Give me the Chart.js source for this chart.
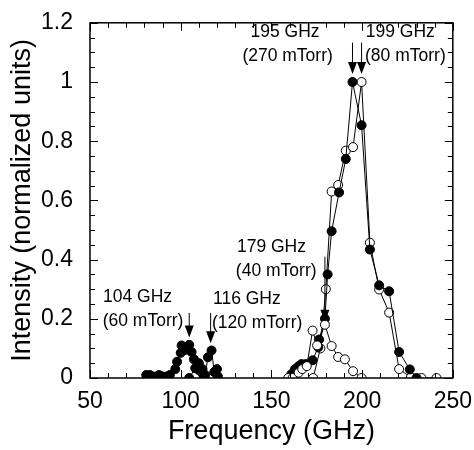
<!DOCTYPE html>
<html>
<head>
<meta charset="utf-8">
<script src="https://cdn.jsdelivr.net/npm/chart.js@4.4.0/dist/chart.umd.min.js"></script>
<style>
  html, body { margin: 0; padding: 0; background: #fff; }
</style>
</head>
<body>
<canvas id="myChart" width="474" height="450"></canvas>
<script>
// 60 mTorr (filled), peak near 104 GHz
var freq60 = [81, 83, 85, 87, 88, 90, 92, 94, 97, 98, 100, 100.5, 102.5, 104.7, 106, 107.3, 110, 112];
var int60  = [0.01, 0.01, 0.005, 0.0, 0.01, 0.005, 0.005, 0.01, 0.03, 0.055, 0.085, 0.11, 0.095, 0.112, 0.088, 0.063, 0.05, 0.03];

// 120 mTorr (filled), peak near 116 GHz
var freq120 = [104.7, 108, 110, 112, 113.5, 115, 117, 118.5, 120, 120.5];
var int120  = [0, 0.033, 0.027, 0.015, 0.01, 0.07, 0.093, 0.02, 0.03, 0.005];

// 40 mTorr (open), peak near 179 GHz
var freq40 = [159.3, 161.7, 165, 167, 169.5, 172.7, 175.2, 179.5, 183.2, 186.8, 190.5, 195, 199.7];
var int40  = [0, 0, 0.018, 0.03, 0.04, 0.16, 0.11, 0.18, 0.108, 0.071, 0.063, 0.023, 0];

// 270 mTorr (filled), peak near 195 GHz
var freq270 = [161, 163, 165, 166.6, 169, 172.7, 175.8, 176.3, 179.5, 181, 183.2, 187.3, 191, 194.7, 199.7, 204.3, 209.4, 214.9, 220.4, 226.3, 230];
var int270  = [0.013, 0.03, 0.04, 0.047, 0.047, 0.06, 0.104, 0.13, 0.2, 0.35, 0.496, 0.627, 0.74, 1.0, 0.854, 0.434, 0.313, 0.293, 0.088, 0.029, 0];

// 80 mTorr (open), peak near 199 GHz
var freq80 = [173, 177, 180, 183.2, 186.8, 191, 195, 199.7, 204.3, 209.4, 214.9, 220.4, 226.9, 232.7, 241];
var int80  = [0, 0.1, 0.3, 0.63, 0.652, 0.768, 0.78, 1.0, 0.457, 0.299, 0.221, 0.03, 0.002, 0, 0];

var xTicks = [50, 100, 150, 200, 250];
var yTicks = [0, 0.2, 0.4, 0.6, 0.8, 1, 1.2];

// annotations
var noteFreq = ["104 GHz", "116 GHz", "179 GHz", "195 GHz", "199 GHz"];
var notePress = ["(60 mTorr)", "(120 mTorr)", "(40 mTorr)", "(270 mTorr)", "(80 mTorr)"];
var arrowX = [104.7, 116.5, 179.5, 194.7, 199.7];
var arrowTop = [0.22, 0.22, 0.41, 1.133, 1.133];
var arrowTip = [0.137, 0.117, 0.19, 1.027, 1.027];
var textX1 = [57.2, 117.8, 131, 138.5, 202];
var textX2 = [57, 117.2, 130.4, 134, 201.6];
var textY = [0.273, 0.267, 0.443, 1.17, 1.17];

function toPoints(xs, ys) {
    return xs.map(function (x, i) { return { x: x, y: ys[i] }; });
}

function makeSet(label, xs, ys, filled) {
    return {
        label: label,
        data: toPoints(xs, ys),
        showLine: true,
        borderColor: "#000",
        borderWidth: 1,
        pointRadius: 4.5,
        pointHoverRadius: 4.5,
        pointBorderColor: "#000",
        pointBorderWidth: 1,
        pointBackgroundColor: filled ? "#000" : "#fff",
        tension: 0
    };
}

var FONT = "'Liberation Sans', Arial, Helvetica, sans-serif";

var framePlugin = {
    id: "frame",
    afterDatasetsDraw: function (chart) {
        var ctx = chart.ctx, a = chart.chartArea;
        var xs = chart.scales.x, ys = chart.scales.y;
        ctx.save();
        ctx.strokeStyle = "#000";
        ctx.lineWidth = 1.5;
        ctx.strokeRect(a.left, a.top, a.right - a.left, a.bottom - a.top);
        ctx.lineWidth = 1;
        ctx.beginPath();
        for (var v = 50; v <= 250; v += 10) {
            var px = Math.round(xs.getPixelForValue(v)) + 0.5;
            var len = v % 50 === 0 ? 8 : 5;
            ctx.moveTo(px, a.bottom); ctx.lineTo(px, a.bottom - len);
            ctx.moveTo(px, a.top); ctx.lineTo(px, a.top + len);
        }
        for (var i = 0; i <= 24; i++) {
            var py = Math.round(ys.getPixelForValue(i * 0.05)) + 0.5;
            var l2 = i % 4 === 0 ? 8 : 5;
            ctx.moveTo(a.left, py); ctx.lineTo(a.left + l2, py);
            ctx.moveTo(a.right, py); ctx.lineTo(a.right - l2, py);
        }
        ctx.stroke();

        // notes with arrows
        ctx.fillStyle = "#000";
        ctx.font = "17.5px " + FONT;
        ctx.textBaseline = "middle";
        ctx.textAlign = "left";
        for (var k = 0; k < noteFreq.length; k++) {
            var ty = ys.getPixelForValue(textY[k]);
            ctx.fillText(noteFreq[k], xs.getPixelForValue(textX1[k]), ty);
            ctx.fillText(notePress[k], xs.getPixelForValue(textX2[k]), ty + 24);

            var ax = xs.getPixelForValue(arrowX[k]);
            var y0 = ys.getPixelForValue(arrowTop[k]);
            var y1 = ys.getPixelForValue(arrowTip[k]);
            ctx.beginPath();
            ctx.lineWidth = 1;
            ctx.moveTo(ax, y0); ctx.lineTo(ax, y1 - 10);
            ctx.stroke();
            ctx.beginPath();
            ctx.moveTo(ax - 4.5, y1 - 12);
            ctx.lineTo(ax + 4.5, y1 - 12);
            ctx.lineTo(ax, y1);
            ctx.closePath();
            ctx.fill();
        }
        ctx.restore();
    }
};

var chart = new Chart(document.getElementById("myChart").getContext("2d"), {
    type: "scatter",
    data: {
        datasets: [
            makeSet("60 mTorr", freq60, int60, true),
            makeSet("120 mTorr", freq120, int120, true),
            makeSet("40 mTorr", freq40, int40, false),
            makeSet("270 mTorr", freq270, int270, true),
            makeSet("80 mTorr", freq80, int80, false)
        ]
    },
    options: {
        responsive: false,
        animation: false,
        layout: { padding: { top: 16, right: 21, left: 0, bottom: 0 } },
        plugins: {
            legend: { display: false },
            tooltip: { enabled: false }
        },
        scales: {
            x: {
                type: "linear",
                min: 50,
                max: 250,
                afterBuildTicks: function (s) { s.ticks = xTicks.map(function (v) { return { value: v }; }); },
                afterFit: function (s) { s.height = 72; },
                grid: { display: false },
                border: { display: false },
                ticks: { color: "#000", padding: 2, maxRotation: 0, font: { family: FONT, size: 23 } },
                title: {
                    display: true,
                    text: "Frequency (GHz)",
                    color: "#000",
                    padding: { top: 0, bottom: 2 },
                    font: { family: FONT, size: 27 }
                }
            },
            y: {
                min: 0,
                max: 1.2,
                afterBuildTicks: function (s) { s.ticks = yTicks.map(function (v) { return { value: v }; }); },
                afterFit: function (s) { s.width = 90; },
                grid: { display: false },
                border: { display: false },
                ticks: {
                    color: "#000",
                    padding: 9,
                    font: { family: FONT, size: 23 },
                    callback: function (v) { return String(Math.round(v * 10) / 10); }
                },
                title: {
                    display: true,
                    text: "Intensity (normalized units)",
                    color: "#000",
                    padding: { top: 6, bottom: 0 },
                    font: { family: FONT, size: 27 }
                }
            }
        }
    },
    plugins: [framePlugin]
});
</script>
</body>
</html>
